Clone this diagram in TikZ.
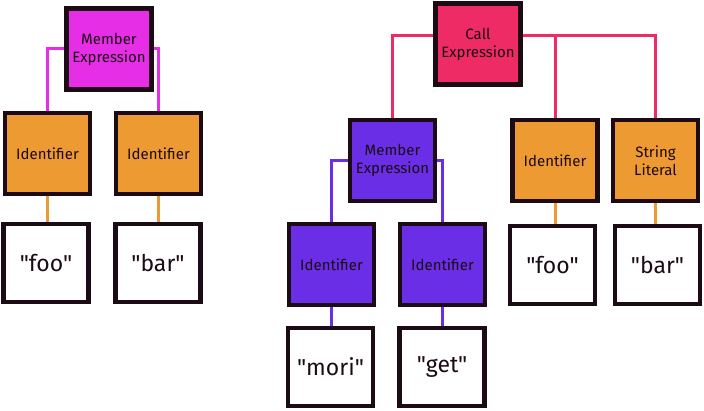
\documentclass[tikz,border=0pt]{standalone}
\usepackage{fontspec}
\setmainfont{Fira Sans}[Ligatures=TeXOff]
\usetikzlibrary{backgrounds}
\definecolor{cmag}{HTML}{E52EE6}
\definecolor{corange}{HTML}{EE9A33}
\definecolor{cred}{HTML}{EE2B64}
\definecolor{cpurple}{HTML}{6A2EE6}
\definecolor{cborder}{HTML}{1C0A14}
\tikzset{
  tbox/.style={draw=cborder, line width=4.5pt, minimum width=85pt, minimum height=81pt, inner sep=0pt, align=center, font=\fontsize{15}{18}\selectfont, text=cborder},
  vbox/.style={tbox, fill=white, minimum height=78pt, font=\fontsize{23}{26}\selectfont},
  conn/.style={line width=3pt}
}
\begin{document}
\begin{tikzpicture}[x=1pt,y=-1pt]
\useasboundingbox (0,0) rectangle (704,411);
% left tree
\node[tbox, fill=cmag] (me1) at (109,49) {Member\\Expression};
\node[tbox, fill=corange] (id1) at (47.5,153.5) {Identifier};
\node[tbox, fill=corange] (id2) at (158.5,153.5) {Identifier};
\node[vbox] (v1) at (46,263) {"foo"};
\node[vbox] (v2) at (158,263) {"bar"};
% right tree
\node[tbox, fill=cred] (call) at (478,44) {Call\\Expression};
\node[tbox, fill=cpurple] (me2) at (392.5,160.5) {Member\\Expression};
\node[tbox, fill=cpurple] (id3) at (331.5,264.5) {Identifier};
\node[tbox, fill=cpurple] (id4) at (442.5,264.5) {Identifier};
\node[vbox] (v3) at (330.5,367) {"mori"};
\node[vbox] (v4) at (442,367) {"get"};
\node[tbox, fill=corange] (id5) at (555,160.5) {Identifier};
\node[tbox, fill=corange] (sl) at (655.5,160.5) {String\\Literal};
\node[vbox] (v5) at (552.5,265) {"foo"};
\node[vbox] (v6) at (657.5,265) {"bar"};
\begin{scope}[on background layer]
\draw[conn, cmag] (me1.west) -| (id1.north);
\draw[conn, cmag] (me1.east) -| (id2.north);
\draw[conn, corange] (id1.south) -- (id1.south |- v1.north);
\draw[conn, corange] (id2.south) -- (id2.south |- v2.north);
\draw[conn, cred] ([yshift=8pt]call.west) -| (me2.north);
\draw[conn, cred] ([yshift=8pt]call.east) -| (sl.north);
\draw[conn, cred] ([yshift=8pt]call.east -| id5.north) -- (id5.north);
\draw[conn, cpurple] (me2.west) -| (id3.north);
\draw[conn, cpurple] (me2.east) -| (id4.north);
\draw[conn, cpurple] (id3.south) -- (id3.south |- v3.north);
\draw[conn, cpurple] (id4.south) -- (id4.south |- v4.north);
\draw[conn, corange] (id5.south) -- (id5.south |- v5.north);
\draw[conn, corange] (sl.south) -- (sl.south |- v6.north);
\end{scope}
\end{tikzpicture}
\end{document}
